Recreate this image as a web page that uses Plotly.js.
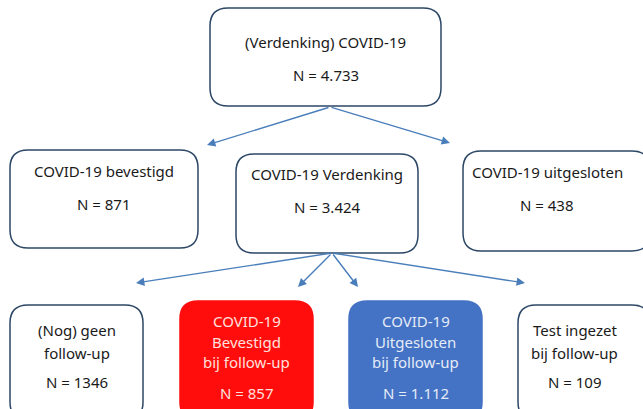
<!DOCTYPE html>
<html><head><meta charset="utf-8">
<script src="https://cdn.plot.ly/plotly-3.0.1.min.js"></script>
<style>html,body{margin:0;padding:0;background:#fff}#c{width:643px;height:409px}</style>
</head><body><div id="c"></div>
<script>
// Data
const boxTitles = [
  ["(Verdenking) COVID-19"],
  ["COVID-19 bevestigd"],
  ["COVID-19 Verdenking"],
  ["COVID-19 uitgesloten"],
  ["(Nog) geen", "follow-up"],
  ["COVID-19", "Bevestigd", "bij follow-up"],
  ["COVID-19", "Uitgesloten", "bij follow-up"],
  ["Test ingezet", "bij follow-up"]
];
const nLabels = ["4.733", "871", "3.424", "438", "1346", "857", "1.112", "109"];
const parentOf = [-1, 0, 0, 0, 2, 2, 2, 2];

// Layout (pixel-like coordinates)
const boxX0 = [210, 10, 236, 463, 10, 180, 349, 518];
const boxX1 = [441, 198, 418, 650, 143, 313, 482, 650];
const boxY0 = [8, 150, 154, 151, 305, 301, 301, 305];
const boxY1 = [106, 248, 253, 251, 420, 420, 420, 420];
const fills = ["#ffffff","#ffffff","#ffffff","#ffffff","#ffffff","#ff0d0d","#4472c4","#ffffff"];
const lines = ["#2c4766","#2c4766","#2c4766","#2c4766","#2c4766","#ff0d0d","#4472c4","#2c4766"];
const txtCol = ["#1a1a1a","#1a1a1a","#1a1a1a","#1a1a1a","#1a1a1a","#ffe0dc","#e4ecf8","#1a1a1a"];
const titleY = [[42],[171],[174],[172],[330,353],[321,342,362],[321,342,362],[330,353]];
const nY = [75, 204, 207, 205, 382, 393, 393, 382];
const arrowFrom = {0:[330,107], 2:[332,253]};
const arrowTo = [null,[207,145],null,[450,143],[136,283],[298,287],[358,287],[525,283]];

function rr(x0,y0,x1,y1,r){
  return `M${x0+r},${y0} L${x1-r},${y0} Q${x1},${y0} ${x1},${y0+r} L${x1},${y1-r} Q${x1},${y1} ${x1-r},${y1} L${x0+r},${y1} Q${x0},${y1} ${x0},${y1-r} L${x0},${y0+r} Q${x0},${y0} ${x0+r},${y0} Z`;
}
const shapes = [], annotations = [];
boxTitles.forEach((t,i)=>{
  shapes.push({type:'path', xref:'x', yref:'y', path: rr(boxX0[i],boxY0[i],boxX1[i],boxY1[i],18),
    fillcolor: fills[i], line:{color: lines[i], width:1.5}, layer:'below'});
  const cx = (boxX0[i] + Math.min(boxX1[i],643))/2 + (i===3||i===7? -6:0);
  t.forEach((s,k)=>annotations.push({x:cx, y:titleY[i][k], xref:'x', yref:'y', text:s, showarrow:false,
    font:{family:'Noto Sans, sans-serif', size:15, color:txtCol[i]}}));
  annotations.push({x:cx, y:nY[i], xref:'x', yref:'y', text:'N = '+nLabels[i], showarrow:false,
    font:{family:'Noto Sans, sans-serif', size:15, color:txtCol[i]}});
  if(parentOf[i]>=0 && arrowTo[i]){
    const f = arrowFrom[parentOf[i]], to = arrowTo[i];
    annotations.push({x:to[0], y:to[1], ax:f[0], ay:f[1], xref:'x', yref:'y', axref:'x', ayref:'y',
      text:'', showarrow:true, arrowhead:2, arrowsize:1.2, arrowwidth:1.4, arrowcolor:'#4a7ebb'});
  }
});
Plotly.newPlot('c', [], {
  width:643, height:409, margin:{l:0,r:0,t:0,b:0},
  paper_bgcolor:'#fff', plot_bgcolor:'#fff',
  xaxis:{range:[0,643], visible:false, fixedrange:true},
  yaxis:{range:[409,0], visible:false, fixedrange:true},
  shapes, annotations, showlegend:false
}, {staticPlot:true});
</script></body></html>
